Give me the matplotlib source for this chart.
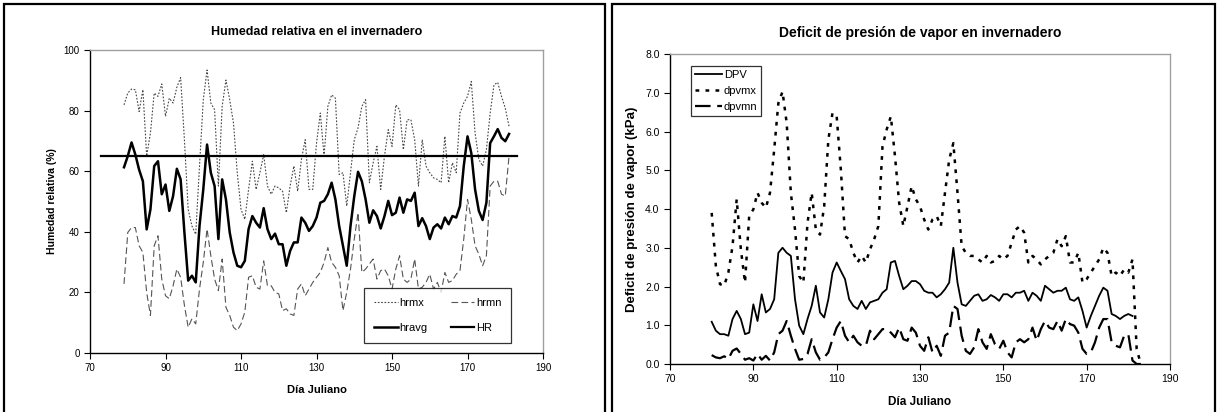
import numpy as np
import matplotlib
matplotlib.use("Agg")
from matplotlib import pyplot as plt
from matplotlib.patches import Rectangle

plt.rcParams['font.family'] = ['Liberation Sans', 'DejaVu Sans']

# ---- humedad relativa (dias 79..181)
dias_hr = list(range(79, 182))
hrmx = [81.9, 85.8, 87.1, 86.9, 79.7, 86.9, 65.0, 72.6, 85.8, 84.7,
        88.8, 78.1, 84.1, 82.5, 87.7, 90.9, 70.4, 47.4, 41.9, 39.2,
        61.7, 83.6, 93.4, 82.5, 80.3, 55.1, 81.4, 90.1, 83.6, 75.9,
        59.5, 47.4, 44.1, 54.0, 63.3, 54.0, 59.5, 65.5, 55.1, 52.4,
        55.1, 54.5, 53.4, 46.3, 55.1, 61.7, 53.4, 63.9, 70.4, 54.0,
        54.0, 69.3, 79.2, 65.0, 81.4, 85.2, 84.1, 58.9, 59.5, 48.5,
        59.5, 70.4, 74.3, 81.4, 83.6, 56.2, 62.8, 68.2, 54.0, 65.0,
        73.7, 68.2, 81.9, 80.3, 67.1, 77.0, 77.0, 70.4, 55.1, 70.4,
        61.7, 59.5, 57.8, 57.3, 56.2, 71.5, 56.2, 62.8, 59.5, 79.2,
        82.5, 84.7, 89.6, 72.6, 63.9, 61.7, 67.1, 79.2, 88.5, 89.3,
        84.7, 80.8, 74.8]
hrmn = [22.8, 39.8, 41.4, 41.4, 35.4, 33.2, 20.0, 12.4, 35.4, 38.7,
        24.4, 18.9, 17.9, 22.2, 27.7, 25.0, 15.7, 8.5, 11.3, 9.6,
        21.1, 29.9, 40.9, 32.1, 24.4, 20.6, 31.0, 15.1, 12.4, 8.5,
        7.4, 9.6, 13.5, 25.0, 25.5, 21.7, 21.1, 30.4, 22.2, 22.2,
        20.0, 19.5, 14.0, 14.6, 12.9, 12.4, 21.1, 22.8, 18.9, 21.1,
        23.3, 25.0, 26.6, 29.9, 34.8, 29.9, 28.3, 25.5, 14.0, 20.0,
        27.7, 37.6, 46.3, 26.6, 27.7, 29.4, 31.0, 24.4, 27.2, 27.7,
        25.5, 21.1, 27.7, 32.1, 24.4, 23.3, 24.4, 31.0, 21.1, 21.7,
        23.3, 26.0, 21.1, 23.3, 20.0, 26.6, 23.3, 23.9, 26.0, 27.2,
        37.6, 50.7, 44.1, 35.4, 32.6, 28.8, 32.1, 55.1, 56.7, 56.7,
        52.4, 51.8, 65.0]
hravg = [61.3, 65.0, 69.5, 65.5, 60.5, 56.7, 40.8, 47.4, 61.7, 63.3,
         52.4, 55.6, 46.9, 51.8, 60.8, 57.3, 39.8, 23.9, 25.5, 23.3,
         41.9, 54.0, 68.8, 59.5, 55.1, 37.6, 57.3, 50.7, 39.8, 33.2,
         28.8, 28.3, 30.4, 40.9, 45.2, 43.0, 41.4, 47.8, 40.9, 37.6,
         39.4, 35.9, 35.9, 28.8, 33.7, 36.5, 36.5, 44.7, 43.0, 40.3,
         41.9, 44.7, 49.6, 50.2, 52.4, 56.2, 50.7, 41.9, 35.4, 28.8,
         41.9, 51.8, 59.8, 56.7, 50.7, 43.0, 47.1, 45.2, 41.1, 45.2,
         50.2, 45.5, 46.3, 51.3, 46.3, 50.7, 50.2, 52.9, 41.9, 44.5,
         41.9, 37.6, 41.4, 42.5, 41.1, 44.7, 42.5, 45.2, 44.7, 48.5,
         61.7, 71.5, 66.0, 54.0, 46.9, 43.9, 49.6, 69.3, 71.5, 73.9,
         71.0, 69.9, 72.3]
hr_dias = [73, 183]
hr_ref = [65, 65]

# ---- deficit de presion de vapor (dias 80..181, extremos hasta 183)
dias_dpv = list(range(80, 182))
dpv = [1.09, 0.86, 0.77, 0.77, 0.73, 1.16, 1.37, 1.16, 0.77, 0.81,
       1.54, 1.11, 1.80, 1.33, 1.42, 1.67, 2.87, 3.00, 2.87, 2.79,
       1.67, 0.99, 0.77, 1.16, 1.50, 2.02, 1.33, 1.20, 1.67, 2.36,
       2.62, 2.40, 2.19, 1.67, 1.50, 1.42, 1.63, 1.42, 1.59, 1.63,
       1.67, 1.84, 1.93, 2.62, 2.66, 2.27, 1.93, 2.02, 2.14, 2.14,
       2.06, 1.89, 1.84, 1.84, 1.72, 1.80, 1.93, 2.10, 3.00, 2.10,
       1.54, 1.50, 1.63, 1.76, 1.80, 1.63, 1.67, 1.78, 1.72, 1.63,
       1.80, 1.80, 1.72, 1.84, 1.84, 1.89, 1.63, 1.84, 1.76, 1.63,
       2.02, 1.93, 1.84, 1.89, 1.89, 1.97, 1.67, 1.63, 1.72, 1.37,
       0.94, 1.24, 1.50, 1.76, 1.97, 1.89, 1.29, 1.24, 1.16, 1.24,
       1.29, 1.24]
dias_ext = list(range(80, 184))
dpvmx = [3.90, 2.53, 2.06, 2.02, 2.36, 3.04, 4.25, 2.96, 2.10, 3.82,
         3.99, 4.42, 4.16, 4.03, 4.42, 5.53, 6.73, 7.03, 6.22, 4.42,
         3.47, 2.27, 2.10, 3.64, 4.42, 3.47, 3.34, 4.07, 5.79, 6.48,
         6.39, 5.02, 3.30, 3.22, 2.87, 2.62, 2.79, 2.62, 2.96, 3.22,
         3.56, 5.62, 6.05, 6.39, 5.36, 4.16, 3.56, 4.07, 4.59, 4.25,
         4.07, 3.73, 3.47, 3.73, 3.82, 3.56, 4.42, 5.27, 5.70, 4.42,
         3.04, 2.87, 2.79, 2.79, 2.70, 2.62, 2.79, 2.62, 2.66, 2.79,
         2.70, 2.79, 3.13, 3.47, 3.56, 3.39, 2.62, 2.79, 2.70, 2.57,
         2.70, 2.79, 2.87, 3.22, 3.04, 3.30, 2.62, 2.62, 2.87, 2.10,
         2.19, 2.36, 2.53, 2.70, 3.00, 2.87, 2.27, 2.36, 2.27, 2.44,
         2.36, 2.70, 0.39, 0.0]
dpvmn = [0.23, 0.17, 0.15, 0.20, 0.13, 0.34, 0.40, 0.26, 0.11, 0.15,
         0.09, 0.26, 0.11, 0.21, 0.09, 0.30, 0.77, 0.86, 1.11, 0.73,
         0.39, 0.11, 0.13, 0.26, 0.64, 0.30, 0.11, 0.17, 0.30, 0.64,
         0.94, 1.11, 0.73, 0.56, 0.73, 0.56, 0.47, 0.47, 0.86, 0.64,
         0.77, 0.90, 0.90, 0.81, 0.69, 0.94, 0.64, 0.60, 0.94, 0.81,
         0.47, 0.34, 0.69, 0.30, 0.47, 0.21, 0.73, 0.81, 1.50, 1.42,
         0.73, 0.34, 0.26, 0.43, 0.90, 0.56, 0.39, 0.77, 0.51, 0.39,
         0.60, 0.30, 0.17, 0.56, 0.64, 0.56, 0.64, 0.94, 0.60, 0.90,
         1.11, 0.94, 0.90, 1.11, 0.86, 1.16, 1.03, 0.99, 0.81, 0.39,
         0.26, 0.30, 0.56, 0.94, 1.16, 1.16, 0.56, 0.47, 0.43, 0.73,
         0.77, 0.09, 0.0, 0.0]

xticks = [70, 90, 110, 130, 150, 170, 190]


def estilo_excel(ax, tam):
    for s in ['left', 'bottom']:
        ax.spines[s].set_color('black')
        ax.spines[s].set_linewidth(1.0)
    for s in ['top', 'right']:
        ax.spines[s].set_color('#a0a0a0')
        ax.spines[s].set_linewidth(1.0)
    ax.tick_params(direction='out', length=4, width=0.8, labelsize=tam,
                   top=False, right=False)
    ax.set_xlim(70, 190)
    ax.set_xticks(xticks)


fig = plt.figure(figsize=(12.2, 4.12), dpi=100)

# marcos de cada grafica
fig.patches.append(Rectangle((4 / 1220, -0.05), 601 / 1220, 1.05 - 4 / 412,
                             transform=fig.transFigure, fill=False,
                             edgecolor='black', linewidth=1.6))
fig.patches.append(Rectangle((612 / 1220, -0.05), 603 / 1220, 1.05 - 4 / 412,
                             transform=fig.transFigure, fill=False,
                             edgecolor='black', linewidth=1.6))

# ---- izquierda
ax1 = fig.add_axes([0.0738, 0.1432, 0.3713, 0.7354])
estilo_excel(ax1, 7)
l_mx, = ax1.plot(dias_hr, hrmx, color='#444444', lw=0.8, ls=(0, (1.5, 1.5)))
l_mn, = ax1.plot(dias_hr, hrmn, color='#555555', lw=0.8, ls=(0, (6, 3)))
l_avg, = ax1.plot(dias_hr, hravg, color='black', lw=1.8)
l_hr, = ax1.plot(hr_dias, hr_ref, color='black', lw=1.6)
ax1.set_ylim(0, 100)
ax1.set_yticks([0, 20, 40, 60, 80, 100])
ax1.set_title('Humedad relativa en el invernadero', fontsize=9,
              fontweight='bold', pad=11)
ax1.set_xlabel('Día Juliano', fontsize=8, fontweight='bold', labelpad=8)
ax1.set_ylabel('Humedad relativa (%)', fontsize=7.5, fontweight='bold',
               labelpad=5)
leg1 = ax1.legend([l_mx, l_avg, l_mn, l_hr], ['hrmx', 'hravg', 'hrmn', 'HR'],
                  ncol=2, loc='lower right', bbox_to_anchor=(0.93, 0.033),
                  fontsize=8, frameon=True, fancybox=False, handlelength=2.1,
                  handletextpad=0.15, columnspacing=2.1, labelspacing=1.35,
                  borderpad=0.9, borderaxespad=0)
leg1.get_frame().set_edgecolor('black')
leg1.get_frame().set_linewidth(0.9)

# ---- derecha
ax2 = fig.add_axes([0.5492, 0.1165, 0.4098, 0.7524])
estilo_excel(ax2, 7.5)
r_dpv, = ax2.plot(dias_dpv, dpv, color='black', lw=1.3)
r_mx, = ax2.plot(dias_ext, dpvmx, color='black', lw=1.8, ls=(0, (1.5, 2.5)))
r_mn, = ax2.plot(dias_ext, dpvmn, color='black', lw=1.6, ls=(0, (7, 3)))
ax2.set_ylim(0, 8)
ax2.set_yticks(np.arange(0, 9, 1.0))
ax2.set_yticklabels([f'{v:.1f}' for v in range(0, 9)])
ax2.set_title('Deficit de presión de vapor en invernadero', fontsize=10,
              fontweight='bold', pad=12)
ax2.set_xlabel('Día Juliano', fontsize=8.5, fontweight='bold', labelpad=8)
ax2.set_ylabel('Deficit de presión de vapor (kPa)', fontsize=9.5,
               fontweight='bold', labelpad=5)
leg2 = ax2.legend([r_dpv, r_mx, r_mn], ['DPV', 'dpvmx', 'dpvmn'],
                  loc='upper left', bbox_to_anchor=(0.042, 0.961), fontsize=8,
                  frameon=True, fancybox=False, handlelength=2.4,
                  handletextpad=0.2, labelspacing=0.55, borderpad=0.35,
                  borderaxespad=0)
leg2.get_frame().set_edgecolor('black')
leg2.get_frame().set_linewidth(0.9)

fig.savefig('out.png', dpi=100)
